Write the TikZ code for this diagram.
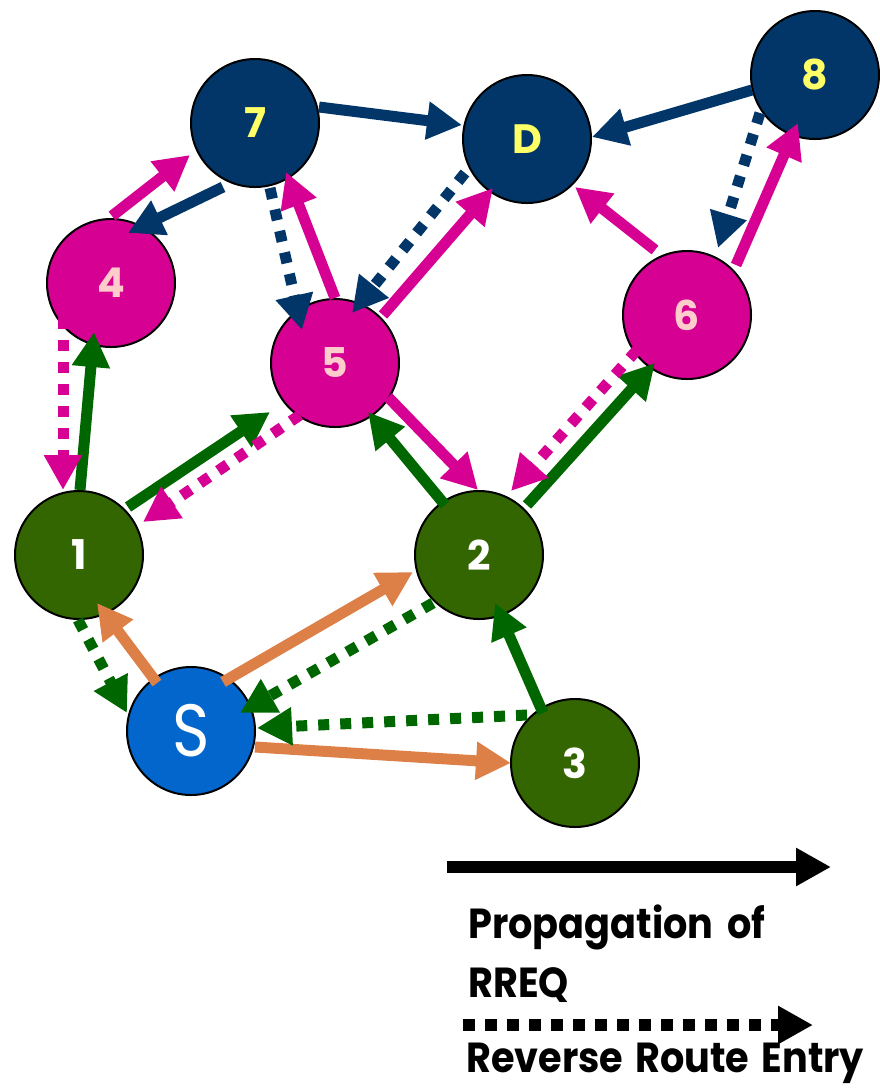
\documentclass[tikz,border=0pt]{standalone}
\usepackage{fontspec}
\setmainfont{Poppins}
\newfontfamily\legendfont{Poppins}[FakeStretch=0.91]
\newfontfamily\sourcefont{Poppins}[FakeStretch=0.86]
\usetikzlibrary{arrows.meta,calc}

\definecolor{navy}{RGB}{3,54,104}
\definecolor{magenta}{RGB}{214,0,147}
\definecolor{olive}{RGB}{51,102,0}
\definecolor{leaf}{RGB}{0,102,0}
\definecolor{peach}{RGB}{221,128,71}
\definecolor{sblue}{RGB}{3,102,204}
\definecolor{lemon}{RGB}{255,255,102}
\definecolor{blush}{RGB}{255,204,204}

\tikzset{
  x=1pt, y=1pt,
  host/.style={circle, draw=black, line width=2pt, minimum size=128pt, inner sep=0pt,
    font=\fontsize{41}{41}\selectfont\bfseries},
  farhost/.style={host, fill=navy, text=lemon},
  midhost/.style={host, fill=magenta, text=blush},
  nearhost/.style={host, fill=olive, text=white},
  srchost/.style={host, fill=sblue, text=white, font=\sourcefont\fontsize{74}{74}\selectfont},
  tip/.style={-{Triangle[length=35pt,width=36pt]}},
  fwd/.style={tip, line width=11pt},
  rev/.style={tip, line width=11pt, dash pattern=on 11pt off 11pt},
  legtext/.style={anchor=base west, inner sep=0pt,
    font=\legendfont\fontsize{42}{42}\selectfont\bfseries}
}

\begin{document}
\begin{tikzpicture}
\useasboundingbox (0,0) rectangle (879,-1088);

% hosts
\node[farhost]  (n7) at (255,-123) {7};
\node[farhost]  (nD) at (527,-139) {D};
\node[farhost]  (n8) at (815,-75)  {8};
\node[midhost]  (n4) at (111,-283) {4};
\node[midhost]  (n5) at (335,-363) {5};
\node[midhost]  (n6) at (687,-315) {6};
\node[nearhost] (n1) at (79,-555)  {1};
\node[nearhost] (n2) at (479,-555) {2};
\node[nearhost] (n3) at (575,-763) {3};
\node[srchost]  (nS) at (191,-731) {S};

% RREQ from the source
\draw[fwd, peach] ($(nS)+(-34,48)$) -- ($(n1)+(18,-48)$);
\draw[fwd, peach] ($(nS)+(32,49)$)  -- ($(n2)+(-66,-17)$);
\draw[fwd, peach] ($(nS)+(64,-16)$) -- ($(n3)+(-64,0)$);

% reverse entries towards the source
\draw[rev, leaf] ($(n1)+(-1,-65)$) -- ($(nS)+(-64,18)$);
\draw[rev, leaf] ($(n2)+(-46,-48)$) -- ($(nS)+(49,18)$);
\draw[rev, leaf] ($(n3)+(-48,48)$) -- ($(nS)+(66,3)$);

% RREQ from the first hop
\draw[fwd, leaf] ($(n1)+(1,65)$)   -- ($(n4)+(-17,-49)$);
\draw[fwd, leaf] ($(n1)+(49,48)$)  -- ($(n5)+(-65,-49)$);
\draw[fwd, leaf] ($(n2)+(-34,50)$) -- ($(n5)+(33,-49)$);
\draw[fwd, leaf] ($(n2)+(48,50)$)  -- ($(n6)+(-32,-48)$);
\draw[fwd, leaf] ($(n3)+(-32,50)$) -- ($(n2)+(16,-48)$);

% reverse entries towards the first hop
\draw[rev, magenta] ($(n4)+(-48,-35)$) -- ($(n1)+(-16,65)$);
\draw[rev, magenta] ($(n5)+(-35,-52)$) -- ($(n1)+(64,33)$);
\draw[rev, magenta] ($(n6)+(-50,-35)$) -- ($(n2)+(32,64)$);

% RREQ from the second hop
\draw[fwd, magenta] ($(n4)+(1,67)$)   -- ($(n7)+(-65,-32)$);
\draw[fwd, magenta] ($(n5)+(0,65)$)   -- ($(n7)+(31,-49)$);
\draw[fwd, magenta] ($(n5)+(48,48)$)  -- ($(nD)+(-34,-49)$);
\draw[fwd, magenta] ($(n6)+(-32,65)$) -- ($(nD)+(48,-48)$);
\draw[fwd, magenta] ($(n6)+(49,50)$)  -- ($(n8)+(-17,-48)$);
\draw[fwd, magenta] ($(n5)+(53,-34)$) -- ($(n2)+(-1,65)$);

% reverse entries towards the second hop
\draw[rev, navy] ($(n7)+(15,-65)$)  -- ($(n5)+(-33,33)$);
\draw[rev, navy] ($(nD)+(-62,-34)$) -- ($(n5)+(17,50)$);
\draw[rev, navy] ($(n8)+(-55,-38)$) -- ($(n6)+(31,67)$);

% RREQ from the third hop
\draw[fwd, navy] ($(n7)+(64,16)$)   -- ($(nD)+(-65,14)$);
\draw[fwd, navy] ($(n8)+(-63,-15)$) -- ($(nD)+(65,2)$);
\draw[fwd, navy] ($(n7)+(-32,-64)$) -- ($(n4)+(17,50)$);

% legend
\coordinate (solidA) at (447,-867);
\coordinate (solidB) at (831,-867);
\coordinate (dotA) at (463,-1025);
\coordinate (dotB) at (813,-1025);
\draw[tip, line width=12pt, black] (solidA) -- (solidB);
\draw[tip, line width=12pt, black, dash pattern=on 12pt off 10pt] (dotA) -- (dotB);
\node[legtext] (lg1) at (468,-938) {Propagation\hspace{6pt} of};
\node[legtext] (lg2) at (468,-997) {RREQ};
\node[legtext] (lg3) at (466,-1072) {Reverse\hspace{4pt} Route\hspace{4pt} Entry};
\end{tikzpicture}
\end{document}
